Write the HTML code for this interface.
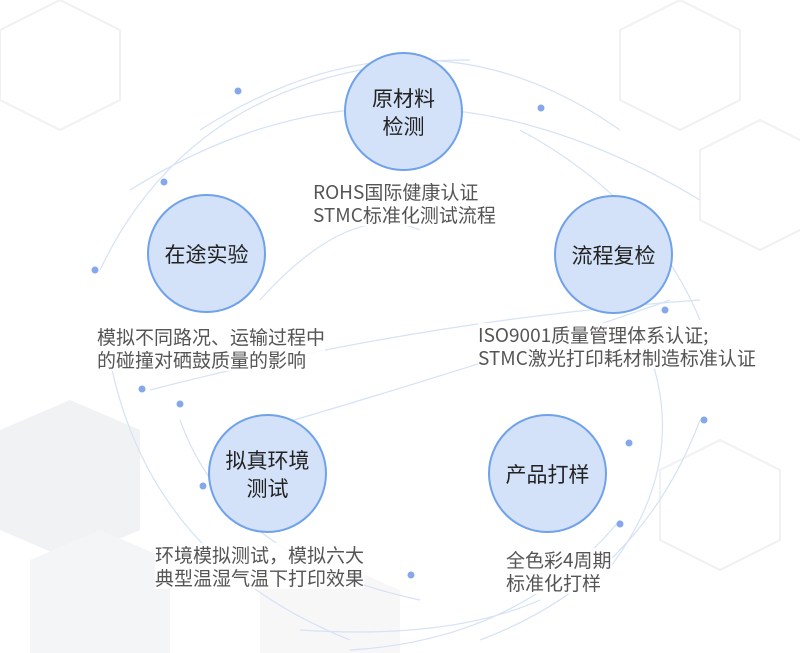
<!DOCTYPE html>
<html><head><meta charset="utf-8"><style>
body{margin:0;width:800px;height:653px;overflow:hidden;background:#fff;font-family:"Noto Sans CJK SC","Liberation Sans",sans-serif;}
.wrap{position:relative;width:800px;height:653px;}
.c{position:absolute;width:119px;height:119px;border-radius:50%;background:#d3e2f8;border:2px solid #6fa2ea;box-sizing:border-box;display:flex;align-items:center;justify-content:center;text-align:center;font-size:21px;line-height:28px;color:#222;}
.t{position:absolute;font-size:19px;line-height:23px;color:#555;white-space:nowrap;background:rgba(255,255,255,0.85);}
</style></head><body><div class="wrap">
<svg width="800" height="653" style="position:absolute;left:0;top:0">
<g fill="none" stroke="#f0f1f3" stroke-width="2">
<polygon points="680,0 740,30 740,100 680,130 620,100 620,30"/>
<polygon points="760,120 820,150 820,220 760,250 700,220 700,150"/>
<polygon points="60,0 120,30 120,100 60,130 0,100 0,30"/>
<polygon points="720,440 780,470 780,540 720,570 660,540 660,470"/>
</g>
<polygon points="0,430 70,400 140,430 140,530 70,560 0,530" fill="#f1f2f4"/>
<polygon points="30,560 100,530 170,560 170,653 30,653" fill="#f4f5f6"/>
<polygon points="260,590 330,560 400,590 400,653 260,653" fill="#f7f7f8"/>
<g fill="none" stroke="#d6e2f5" stroke-width="1.2">
<path d="M130,190 Q400,20 700,200"/>
<path d="M100,270 Q200,60 470,60"/>
<path d="M200,130 Q420,-10 620,130"/>
<path d="M150,390 Q420,320 700,300"/>
<path d="M260,430 Q500,360 670,300"/>
<path d="M180,420 Q230,560 420,600"/>
<path d="M110,360 Q150,560 350,640"/>
<path d="M700,420 Q640,580 480,640"/>
<path d="M620,520 Q520,640 350,650"/>
<path d="M640,330 Q700,460 600,580"/>
<path d="M260,300 Q350,200 420,230"/>
<path d="M520,130 Q650,200 700,320"/>
<path d="M540,600 Q450,640 300,630"/>
</g>
<g fill="#86a8ea">
<circle cx="238" cy="91" r="3.5"/><circle cx="541" cy="108" r="3.5"/><circle cx="164" cy="182" r="3.5"/>
<circle cx="95" cy="270" r="3.5"/><circle cx="665" cy="310" r="3.5"/><circle cx="142" cy="389" r="3.5"/>
<circle cx="180" cy="404" r="3.5"/><circle cx="629" cy="443" r="3.5"/><circle cx="704" cy="420" r="3.5"/>
<circle cx="203" cy="486" r="3.5"/><circle cx="620" cy="524" r="3.5"/><circle cx="411" cy="575" r="3.5"/>
</g>
</svg>
<div class="c" style="left:344px;top:52px">原材料<br>检测</div>
<div class="c" style="left:147px;top:194px">在途实验</div>
<div class="c" style="left:554px;top:195px">流程复检</div>
<div class="c" style="left:208px;top:414px">拟真环境<br>测试</div>
<div class="c" style="left:488px;top:414px">产品打样</div>
<div class="t" style="left:313px;top:180px">ROHS国际健康认证<br>STMC标准化测试流程</div>
<div class="t" style="left:97px;top:325px">模拟不同路况、运输过程中<br>的碰撞对硒鼓质量的影响</div>
<div class="t" style="left:478px;top:323px">ISO9001质量管理体系认证;<br>STMC激光打印耗材制造标准认证</div>
<div class="t" style="left:155px;top:543px">环境模拟测试，模拟六大<br>典型温湿气温下打印效果</div>
<div class="t" style="left:506px;top:548px">全色彩4周期<br>标准化打样</div>
</div></body></html>
